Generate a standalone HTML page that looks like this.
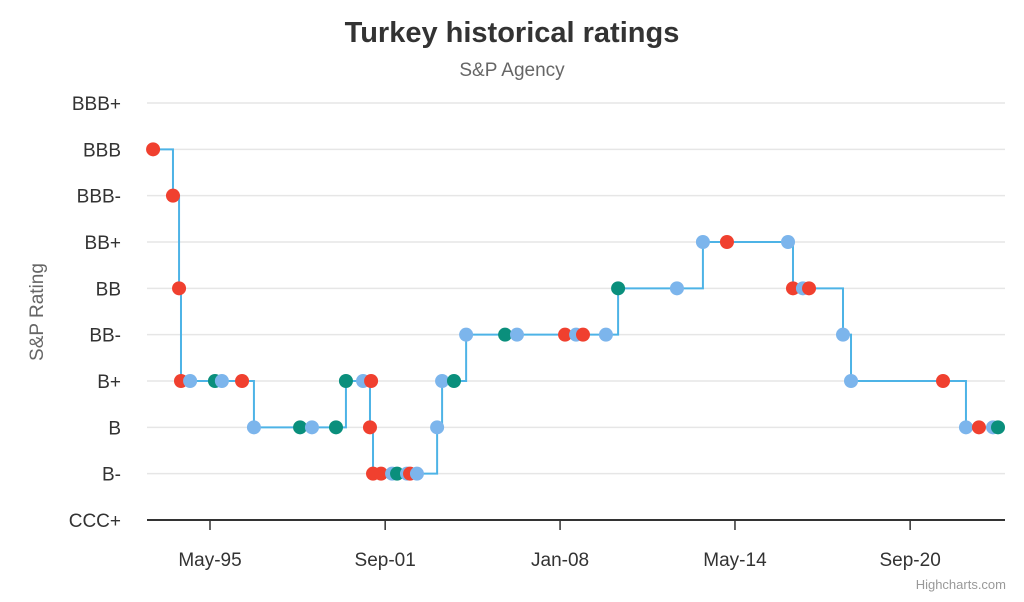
<!DOCTYPE html>
<html><head><meta charset="utf-8"><style>
body{margin:0;background:#fff;font-family:"Liberation Sans",Arial,sans-serif}
svg text{font-family:"Liberation Sans",Arial,sans-serif}
</style></head><body>
<svg id="c" width="1024" height="597">
<text x="512" y="42" text-anchor="middle" font-size="29" font-weight="bold" fill="#333">Turkey historical ratings</text>
<text x="512" y="76" text-anchor="middle" font-size="19" fill="#666">S&amp;P Agency</text>
<text transform="translate(43,312) rotate(-90)" text-anchor="middle" font-size="19" fill="#666">S&amp;P Rating</text>
<g id="grid"></g><g id="xax"></g><g id="series"></g>
<text x="1006" y="589" text-anchor="end" font-size="13" fill="#999">Highcharts.com</text>
</svg>
<script>
const levels=["CCC+","B-","B","B+","BB-","BB","BB+","BBB-","BBB","BBB+"];
const xTickLabels=["May-95","Sep-01","Jan-08","May-14","Sep-20"];
const xTickYears=[1995.33,2001.67,2008.0,2014.33,2020.67];
const years=[1993.27,1993.99,1994.21,1994.28,1994.61,1995.51,1995.76,1996.49,1996.92,1998.59,1999.02,1999.89,2000.25,2000.87,2001.16,2001.12,2001.23,2001.52,2001.92,2002.10,2002.46,2002.57,2002.82,2003.55,2003.73,2004.16,2004.60,2006.01,2006.44,2008.18,2008.58,2008.83,2009.66,2010.10,2012.23,2013.17,2014.04,2016.25,2016.43,2016.79,2017.01,2018.24,2018.53,2021.86,2022.69,2023.16,2023.67,2023.85];
const ratings=[8,7,5,3,3,3,3,3,2,2,2,2,3,3,3,2,1,1,1,1,1,1,1,2,3,3,4,4,4,4,4,4,4,5,5,6,6,6,5,5,5,4,3,3,2,2,2,2];
const kinds=["r","r","r","r","b","g","b","r","b","g","b","g","g","b","r","r","r","r","b","g","b","r","b","b","b","g","b","g","b","r","b","r","b","g","b","b","r","b","r","b","r","b","b","r","b","r","b","g"];
const colors={r:"#f0402f",b:"#7cb5ec",g:"#0a8f7c"};
const NS="http://www.w3.org/2000/svg";
const X0=147,X1=1005,YT=103,YB=520;
function xs(y){return 210+(y-1995.33)*27.63;}
function ys(l){return YB-l*(YB-YT)/(levels.length-1);}
function mk(t,a,p){const e=document.createElementNS(NS,t);for(const k in a)e.setAttribute(k,a[k]);p.appendChild(e);return e;}
const grid=document.getElementById('grid');
levels.forEach((lv,i)=>{
  if(i>0){const l=mk('line',{x1:X0,x2:X1,y1:ys(i),y2:ys(i),stroke:'#e6e6e6','stroke-width':1.5},grid);
  
  }
  const t=mk('text',{x:121,y:ys(i)+7,'text-anchor':'end','font-size':19,fill:'#333'},grid);t.textContent=lv;
  
  
});
const xax=document.getElementById('xax');
const al=mk('line',{x1:X0,x2:X1,y1:YB,y2:YB,stroke:'#333','stroke-width':2},xax);


xTickLabels.forEach((lb,i)=>{
  const x=xs(xTickYears[i]);
  const tk=mk('line',{x1:x,x2:x,y1:YB,y2:YB+10,stroke:'#333','stroke-width':1.5},xax);
  
  
  const t=mk('text',{x:x,y:566,'text-anchor':'middle','font-size':19,fill:'#333'},xax);t.textContent=lb;
  
  
});
const sg=document.getElementById('series');
let d='M'+xs(years[0])+','+ys(ratings[0]);
for(let i=1;i<years.length;i++){d+=' H'+xs(years[i])+' V'+ys(ratings[i]);}
d+=' H'+(xs(years[years.length-1])+3);
const p=mk('path',{d:d,fill:'none',stroke:'#4db3e6','stroke-width':2},sg);


years.forEach((y,i)=>{
  const c=mk('circle',{cx:xs(y),cy:ys(ratings[i]),r:7,fill:colors[kinds[i]]},sg);
  
  
});
</script>
</body></html>
